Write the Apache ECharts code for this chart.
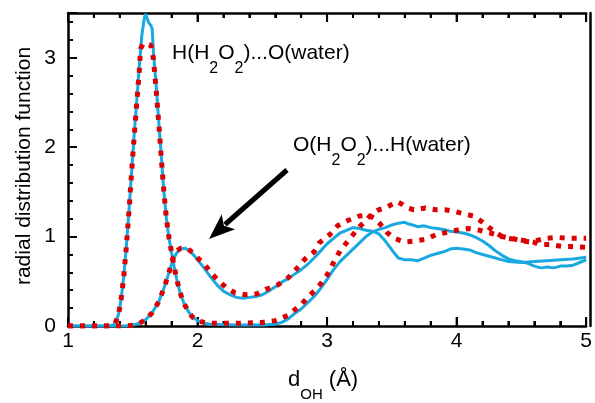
<!DOCTYPE html>
<html>
<head>
<meta charset="utf-8">
<script src="https://cdn.jsdelivr.net/npm/echarts@6/dist/echarts.min.js"></script>
<style>
html,body{margin:0;padding:0;background:#fff;}
#chart{width:595px;height:403px;}
</style>
</head>
<body>
<div id="chart"></div>
<script>
// ---- data ----
const xTickLabels = ['1', '2', '3', '4', '5'];
const yTickLabels = ['0', '1', '2', '3'];
const xMajorTicks = [1, 2, 3, 4, 5];
const xMinorTicks = [1.2, 1.4, 1.6, 1.8, 2.2, 2.4, 2.6, 2.8, 3.2, 3.4, 3.6, 3.8, 4.2, 4.4, 4.6, 4.8];

// H(H2O2)...O(water), solid blue
const blueHO = [[1.0,0],[1.3,0],[1.35,0.01],[1.37,0.05],[1.39,0.13],[1.41,0.3],[1.43,0.55],[1.45,0.88],[1.47,1.27],[1.49,1.7],[1.51,2.12],[1.53,2.5],[1.55,2.9],[1.57,3.25],[1.59,3.45],[1.60,3.49],[1.61,3.47],[1.62,3.4],[1.64,3.36],[1.65,3.32],[1.66,3.05],[1.68,2.7],[1.70,2.3],[1.72,1.9],[1.74,1.5],[1.76,1.2],[1.78,0.98],[1.80,0.82],[1.82,0.66],[1.84,0.52],[1.86,0.4],[1.88,0.31],[1.90,0.24],[1.93,0.16],[1.96,0.1],[2.0,0.06],[2.05,0.03],[2.1,0.02],[2.3,0.01],[2.5,0.01],[2.6,0.02],[2.65,0.04],[2.7,0.08],[2.75,0.14],[2.8,0.19],[2.85,0.26],[2.9,0.33],[2.95,0.42],[3.0,0.52],[3.05,0.63],[3.1,0.72],[3.15,0.79],[3.2,0.86],[3.25,0.93],[3.3,1.0],[3.35,1.05],[3.4,1.08],[3.45,1.1],[3.5,1.13],[3.55,1.15],[3.6,1.16],[3.63,1.14],[3.66,1.13],[3.7,1.11],[3.75,1.12],[3.8,1.1],[3.85,1.09],[3.9,1.08],[3.95,1.06],[4.0,1.05],[4.05,1.04],[4.1,1.02],[4.15,0.99],[4.2,0.95],[4.25,0.9],[4.3,0.84],[4.35,0.79],[4.4,0.75],[4.45,0.73],[4.5,0.72],[4.55,0.7],[4.6,0.67],[4.65,0.65],[4.7,0.66],[4.75,0.65],[4.8,0.67],[4.85,0.67],[4.9,0.68],[4.95,0.71],[5.0,0.74]];

// H(H2O2)...O(water), dotted red
const redHO = [[1.0,0],[1.3,0],[1.35,0.01],[1.37,0.05],[1.39,0.13],[1.41,0.3],[1.43,0.55],[1.45,0.88],[1.47,1.27],[1.49,1.7],[1.51,2.1],[1.53,2.48],[1.55,2.85],[1.56,3.1],[1.58,3.16],[1.6,3.16],[1.62,3.15],[1.64,3.14],[1.66,2.98],[1.68,2.65],[1.70,2.28],[1.72,1.88],[1.74,1.5],[1.76,1.2],[1.78,0.98],[1.80,0.82],[1.82,0.66],[1.84,0.52],[1.86,0.4],[1.88,0.31],[1.90,0.24],[1.93,0.16],[1.96,0.1],[2.0,0.06],[2.05,0.04],[2.1,0.03],[2.3,0.03],[2.5,0.04],[2.55,0.05],[2.6,0.06],[2.65,0.09],[2.7,0.12],[2.75,0.18],[2.8,0.24],[2.85,0.32],[2.9,0.39],[2.95,0.47],[3.0,0.57],[3.05,0.71],[3.1,0.84],[3.15,0.93],[3.2,1.02],[3.25,1.11],[3.3,1.18],[3.35,1.26],[3.4,1.3],[3.45,1.32],[3.5,1.36],[3.54,1.39],[3.58,1.36],[3.62,1.32],[3.67,1.3],[3.72,1.31],[3.76,1.32],[3.84,1.3],[3.91,1.3],[3.99,1.28],[4.07,1.25],[4.13,1.23],[4.2,1.16],[4.25,1.1],[4.3,1.05],[4.35,1.0],[4.4,0.98],[4.5,0.96],[4.59,0.94],[4.64,0.91],[4.72,0.91],[4.82,0.89],[4.9,0.89],[5.0,0.88]];

// O(H2O2)...H(water), solid blue
const blueOH = [[1.0,0],[1.45,0],[1.5,0.01],[1.55,0.03],[1.6,0.07],[1.65,0.15],[1.7,0.27],[1.74,0.42],[1.78,0.6],[1.81,0.74],[1.84,0.82],[1.87,0.86],[1.9,0.87],[1.93,0.85],[1.96,0.81],[2.0,0.74],[2.05,0.65],[2.1,0.55],[2.15,0.46],[2.2,0.39],[2.25,0.35],[2.3,0.32],[2.35,0.31],[2.4,0.32],[2.45,0.33],[2.5,0.35],[2.55,0.39],[2.6,0.44],[2.65,0.49],[2.7,0.53],[2.75,0.58],[2.8,0.63],[2.85,0.69],[2.9,0.76],[2.95,0.84],[3.0,0.92],[3.05,0.98],[3.1,1.04],[3.15,1.07],[3.2,1.1],[3.25,1.09],[3.3,1.07],[3.35,1.06],[3.4,1.03],[3.45,0.95],[3.5,0.85],[3.55,0.76],[3.6,0.74],[3.65,0.74],[3.7,0.73],[3.75,0.76],[3.8,0.79],[3.85,0.81],[3.9,0.83],[3.95,0.86],[4.0,0.87],[4.05,0.86],[4.1,0.85],[4.15,0.82],[4.2,0.8],[4.25,0.78],[4.3,0.76],[4.35,0.74],[4.4,0.72],[4.5,0.71],[4.6,0.72],[4.7,0.73],[4.8,0.74],[4.9,0.75],[5.0,0.77]];

// O(H2O2)...H(water), dotted red
const redOH = [[1.0,0],[1.45,0],[1.5,0.01],[1.55,0.03],[1.6,0.07],[1.65,0.15],[1.7,0.27],[1.74,0.42],[1.78,0.6],[1.81,0.76],[1.84,0.84],[1.87,0.87],[1.9,0.87],[1.93,0.86],[1.96,0.82],[2.0,0.76],[2.05,0.7],[2.1,0.6],[2.16,0.51],[2.22,0.43],[2.29,0.37],[2.37,0.35],[2.46,0.36],[2.53,0.41],[2.62,0.46],[2.7,0.54],[2.77,0.65],[2.83,0.75],[2.9,0.83],[2.94,0.93],[3.02,1.02],[3.08,1.12],[3.16,1.18],[3.25,1.23],[3.32,1.24],[3.37,1.2],[3.41,1.14],[3.46,1.05],[3.52,0.98],[3.6,0.94],[3.67,0.95],[3.76,0.97],[3.84,1.02],[3.93,1.05],[4.0,1.07],[4.09,1.09],[4.18,1.07],[4.26,1.04],[4.35,1.0],[4.43,0.98],[4.5,0.95],[4.57,0.94],[4.63,0.96],[4.69,0.98],[4.78,0.99],[4.87,0.98],[5.0,0.98]];

// ---- styling ----
const FONT = '"Liberation Sans", Arial, Helvetica, sans-serif';
const BLUE = '#1aa8e0';
const RED = '#dc0000';
const AXW = 2.5;
const Y_MIN = 0, Y_MAX = 3.5;

const chart = echarts.init(document.getElementById('chart'));

const measureCtx = document.createElement('canvas').getContext('2d');
function subText(parts, x0, baseY, mainSize, subSize, subDrop) {
  let x = x0;
  const out = [];
  parts.forEach(function (p) {
    const txt = p[0], sub = p[1];
    const size = sub ? subSize : mainSize;
    const font = size + 'px ' + FONT;
    measureCtx.font = font;
    const by = sub ? baseY + subDrop : baseY;
    out.push({
      type: 'text', x: x, y: by - 0.3465 * size, z: 100,
      style: {text: txt, font: font, fill: '#000', align: 'left', verticalAlign: 'middle'}
    });
    x += measureCtx.measureText(txt).width;
  });
  return out;
}

const graphics = []
  .concat(subText([['H(H', 0], ['2', 1], ['O', 0], ['2', 1], [')...O(water)', 0]], 172, 60, 21, 16, 14))
  .concat(subText([['O(H', 0], ['2', 1], ['O', 0], ['2', 1], [')...H(water)', 0]], 293, 152, 21, 16, 14))
  .concat(subText([['d', 0], ['OH', 1], [' (\u00C5)', 0]], 288, 388, 22, 15, 12));

graphics.push({
  type: 'text', x: 24.7, y: 166, rotation: Math.PI / 2, z: 100,
  style: {text: 'radial distribution function', font: '21px ' + FONT, fill: '#000',
          align: 'center', verticalAlign: 'middle'}
});

// arrow
graphics.push({
  type: 'line', z: 100,
  shape: {x1: 287, y1: 170, x2: 225, y2: 224.5},
  style: {stroke: '#000', lineWidth: 5}
});
graphics.push({
  type: 'polygon', z: 100,
  shape: {points: [[209, 239], [235.1, 229.2], [223.9, 225.7], [221.7, 214.3]]},
  style: {fill: '#000'}
});

const GRID = {left: 68, right: 5, top: 13, bottom: 77};

function frameX(pos, label) {
  return {
    type: 'value', gridIndex: 0, min: 1, max: 5, interval: 1, position: pos,
    axisLine: {show: true, lineStyle: {color: '#000', width: AXW}},
    axisTick: {show: true, inside: true, length: 9, lineStyle: {color: '#000', width: 2}},
    minorTick: {show: true, splitNumber: 5, length: 5, lineStyle: {color: '#000', width: 2}},
    splitLine: {show: false}, minorSplitLine: {show: false},
    axisLabel: label ? {show: true, margin: 5, color: '#000', fontSize: 21, fontFamily: FONT,
      formatter: function (v) { const i = xTickLabels.indexOf(String(v)); return i >= 0 ? xTickLabels[i] : ''; }}
      : {show: false}
  };
}
function hiddenX(g) {
  return {type: 'value', gridIndex: g, min: 1, max: 5, show: false, splitLine: {show: false}};
}

// x-axis tick marks (bottom and top, pointing inwards), placed through the axis scale
const xTickRows = xMajorTicks.map(function (v) { return [v, 1]; })
  .concat(xMinorTicks.map(function (v) { return [v, 0]; }));

function renderXTick(params, api) {
  const v = api.value(0);
  const len = api.value(1) === 1 ? 9 : 5;
  const b = api.coord([v, Y_MIN]);
  const t = api.coord([v, Y_MAX]);
  return {
    type: 'group',
    children: [
      {type: 'line', shape: {x1: b[0], y1: b[1], x2: b[0], y2: b[1] - len},
       style: {stroke: '#000', lineWidth: 2}},
      {type: 'line', shape: {x1: t[0], y1: t[1], x2: t[0], y2: t[1] + len},
       style: {stroke: '#000', lineWidth: 2}}
    ]
  };
}

const option = {
  animation: false,
  grid: [GRID, GRID, GRID],
  xAxis: [frameX('bottom', true), frameX('top', false), hiddenX(1), hiddenX(2)],
  yAxis: [
    {
      type: 'value', gridIndex: 0, min: Y_MIN, max: Y_MAX, interval: 1, position: 'left',
      axisLine: {show: true, lineStyle: {color: '#000', width: AXW}},
      axisTick: {show: true, inside: true, length: 9, lineStyle: {color: '#000', width: 2}},
      axisLabel: {show: true, margin: 12, color: '#000', fontSize: 21, fontFamily: FONT,
                  formatter: function (v) { const i = yTickLabels.indexOf(String(v)); return i >= 0 ? yTickLabels[i] : ''; }},
      splitLine: {show: false}
    },
    {
      type: 'value', gridIndex: 1, min: Y_MIN, max: Y_MAX, interval: 0.2, position: 'left',
      axisLine: {show: false},
      axisTick: {show: true, inside: true, length: 5, lineStyle: {color: '#000', width: 2}},
      axisLabel: {show: false},
      splitLine: {show: false}
    },
    {
      type: 'value', gridIndex: 2, min: Y_MIN, max: Y_MAX, position: 'right',
      axisLine: {show: true, lineStyle: {color: '#000', width: AXW}},
      axisTick: {show: false}, axisLabel: {show: false}, splitLine: {show: false}
    }
  ],
  series: [
    {type: 'custom', name: 'x ticks', xAxisIndex: 0, yAxisIndex: 0, data: xTickRows,
     renderItem: renderXTick, silent: true, z: 1, clip: false},
    {type: 'line', name: 'H(H2O2)...O(water) blue', xAxisIndex: 0, yAxisIndex: 0, data: blueHO,
     showSymbol: false, symbol: 'none', lineStyle: {color: BLUE, width: 3}},
    {type: 'line', name: 'O(H2O2)...H(water) blue', xAxisIndex: 0, yAxisIndex: 0, data: blueOH,
     showSymbol: false, symbol: 'none', lineStyle: {color: BLUE, width: 3}},
    {type: 'line', name: 'H(H2O2)...O(water) red', xAxisIndex: 0, yAxisIndex: 0, data: redHO,
     showSymbol: false, symbol: 'none', lineStyle: {color: RED, width: 5, type: [5, 7], cap: 'butt'}},
    {type: 'line', name: 'O(H2O2)...H(water) red', xAxisIndex: 0, yAxisIndex: 0, data: redOH,
     showSymbol: false, symbol: 'none', lineStyle: {color: RED, width: 5, type: [5, 7], cap: 'butt'}}
  ],
  graphic: graphics
};

chart.setOption(option);
</script>
</body>
</html>
